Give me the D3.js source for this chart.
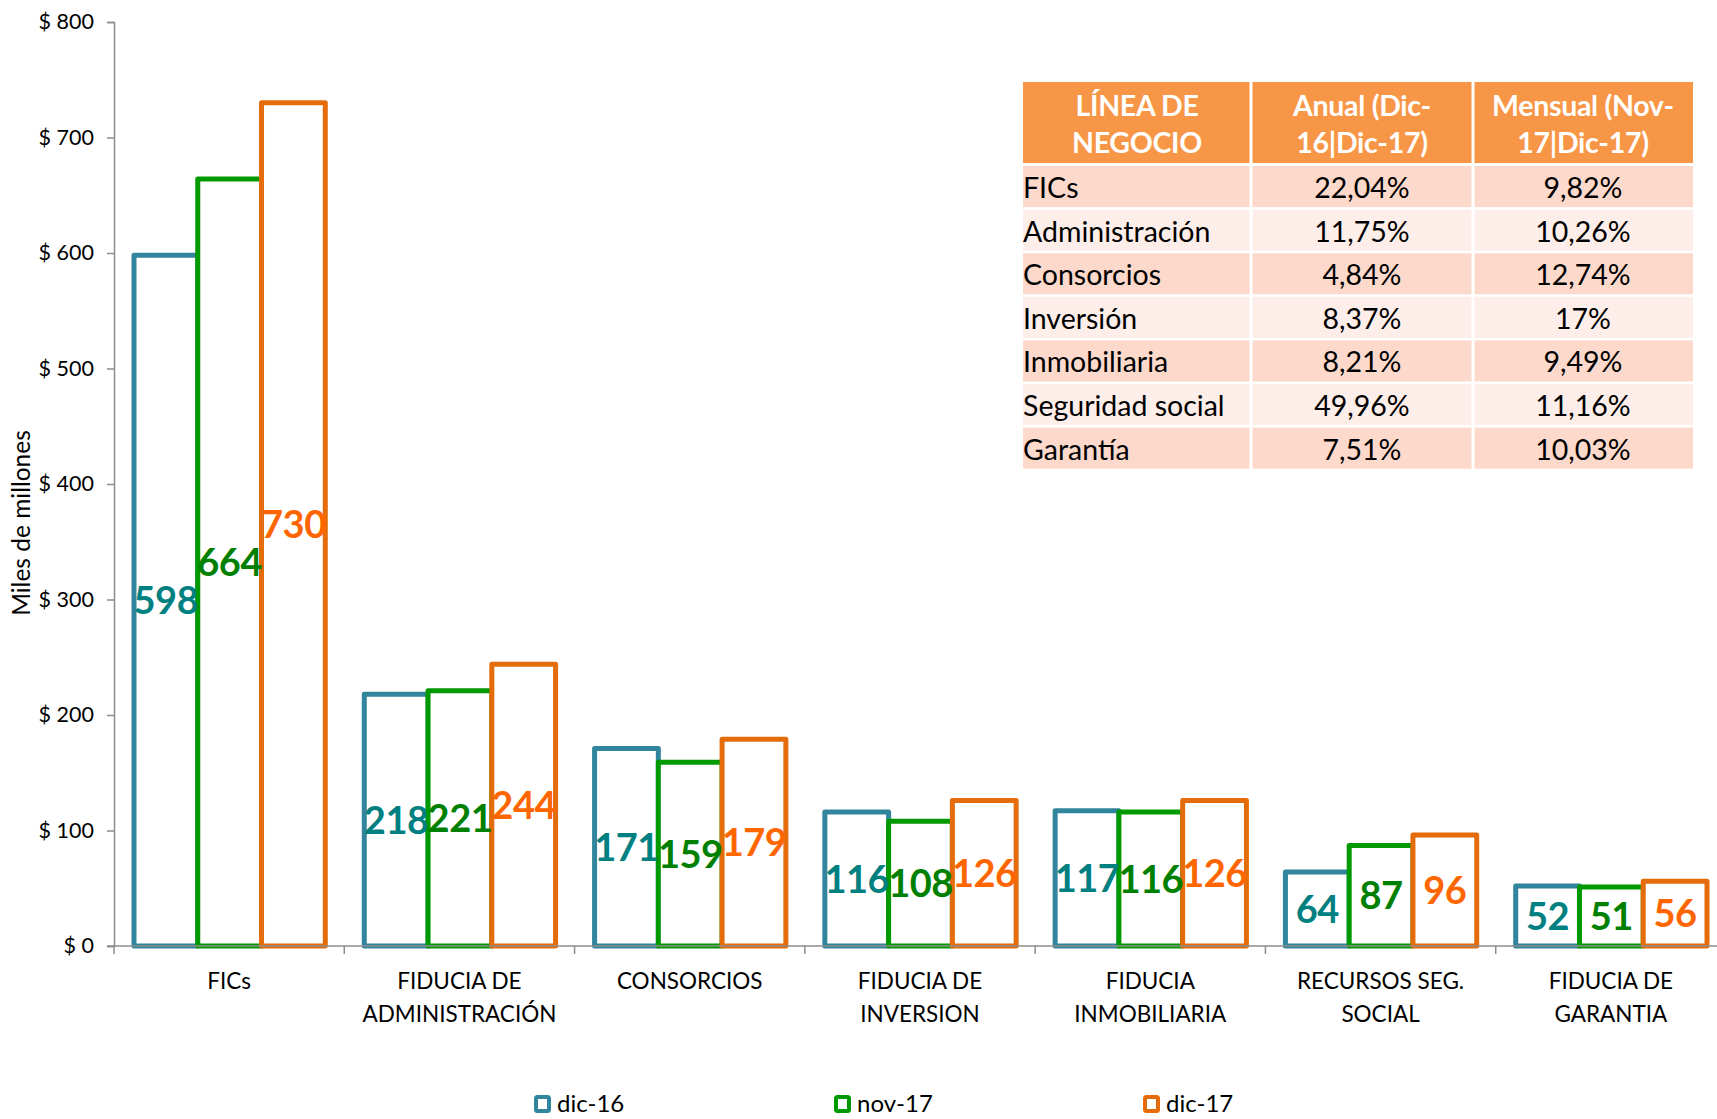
<!DOCTYPE html>
<html>
  <head>
    <meta charset="utf-8">
    <title>Líneas de negocio</title>
    <script src="https://d3js.org/d3.v7.min.js"></script>
    <style>
      body { margin: 0; background: #fff; }
      text { font-family: Lato, "Open Sans", sans-serif; }
    </style>
  </head>
  <body>
    <div id="graph"></div>
  </body>

  <script>
    // Chart data
    const categories = ["FICs", "FIDUCIA DE ADMINISTRACIÓN", "CONSORCIOS", "FIDUCIA DE INVERSION",
      "FIDUCIA INMOBILIARIA", "RECURSOS SEG. SOCIAL", "FIDUCIA DE GARANTIA"];
    const category_lines = [["FICs"], ["FIDUCIA DE", "ADMINISTRACIÓN"], ["CONSORCIOS"], ["FIDUCIA DE", "INVERSION"],
      ["FIDUCIA", "INMOBILIARIA"], ["RECURSOS SEG.", "SOCIAL"], ["FIDUCIA DE", "GARANTIA"]];
    const series = ["dic-16", "nov-17", "dic-17"];
    const dic16 = [598, 218, 171, 116, 117, 64, 52];
    const nov17 = [664, 221, 159, 108, 116, 87, 51];
    const dic17 = [730, 244, 179, 126, 126, 96, 56];
    const y_ticks = [0, 100, 200, 300, 400, 500, 600, 700, 800];

    // Table data
    const table_header = [["LÍNEA DE", "NEGOCIO"], ["Anual (Dic-", "16|Dic-17)"], ["Mensual (Nov-", "17|Dic-17)"]];
    const table_lines = ["FICs", "Administración", "Consorcios", "Inversión", "Inmobiliaria", "Seguridad social", "Garantía"];
    const table_anual = ["22,04%", "11,75%", "4,84%", "8,37%", "8,21%", "49,96%", "7,51%"];
    const table_mensual = ["9,82%", "10,26%", "12,74%", "17%", "9,49%", "11,16%", "10,03%"];

    const stroke_colors = {"dic-16": "#31859c", "nov-17": "#009900", "dic-17": "#e46c0a"};
    const label_colors = {"dic-16": "#008080", "nov-17": "#008000", "dic-17": "#ff6600"};

    const width = 1717;
    const height = 1119;
    const margin = ({top: 22, left: 114, bottom: 946});

    let svg = d3.select("#graph").append("svg")
      .attr("width", width)
      .attr("height", height);

    const values = {"dic-16": dic16, "nov-17": nov17, "dic-17": dic17};
    const data = categories.map((c, i) => ({
      category: c,
      items: series.map(s => ({series: s, value: values[s][i]}))
    }));

    // Scales (the last category runs a bit past the right edge, like the original)
    let x = d3.scaleBand()
      .domain(categories)
      .range([margin.left, 1726]);
    let x1 = d3.scaleBand()
      .domain(series)
      .range([20, x.bandwidth() - 19]);
    let y = d3.scaleLinear()
      .domain([0, 800])
      .range([margin.bottom, margin.top]);

    // Y axis
    let y_axis = d3.axisLeft(y)
      .tickValues(y_ticks)
      .tickSize(7)
      .tickPadding(13)
      .tickFormat(d => "$ " + d);
    let gy = svg.append("g")
      .attr("transform", `translate(${margin.left}, 0)`)
      .call(y_axis);
    gy.select(".domain").attr("stroke", "#8c8c8c").attr("stroke-width", 1.5);
    gy.selectAll(".tick line").attr("stroke", "#8c8c8c").attr("stroke-width", 1.5);
    gy.selectAll(".tick text")
      .attr("fill", "#000")
      .style("font-size", "21.5px")
      .style("font-family", "Lato, sans-serif");

    svg.append("text")
      .attr("transform", `translate(30, 523) rotate(-90)`)
      .attr("text-anchor", "middle")
      .style("font-size", "24.5px")
      .text("Miles de millones");

    // Bars
    let groups = svg.append("g")
      .selectAll("g")
      .data(data)
      .enter()
      .append("g")
      .attr("transform", d => `translate(${x(d.category)}, 0)`);

    groups.selectAll("rect")
      .data(d => d.items)
      .enter()
      .append("rect")
      .attr("x", d => x1(d.series))
      .attr("y", d => y(d.value))
      .attr("width", x1.bandwidth())
      .attr("height", d => y(0) - y(d.value))
      .attr("fill", "#fff")
      .attr("stroke", d => stroke_colors[d.series])
      .attr("stroke-width", 5)
      .attr("stroke-linejoin", "round");

    // X axis line and ticks
    svg.append("line")
      .attr("x1", margin.left - 7).attr("x2", width)
      .attr("y1", y(0)).attr("y2", y(0))
      .attr("stroke", "#8c8c8c").attr("stroke-width", 1.5);
    svg.append("g")
      .selectAll("line")
      .data(categories)
      .enter()
      .append("line")
      .attr("x1", d => x(d)).attr("x2", d => x(d))
      .attr("y1", y(0)).attr("y2", y(0) + 8)
      .attr("stroke", "#8c8c8c").attr("stroke-width", 1.5);

    // Value labels, centered in each bar
    groups.selectAll(".val")
      .data(d => d.items)
      .enter()
      .append("text")
      .attr("class", "val")
      .attr("x", d => x1(d.series) + x1.bandwidth() / 2)
      .attr("y", d => (y(d.value) + y(0)) / 2)
      .attr("dy", "0.36em")
      .attr("text-anchor", "middle")
      .attr("fill", d => label_colors[d.series])
      .style("font-size", "38px")
      .style("font-weight", "bold")
      .style("letter-spacing", "-0.5px")
      .text(d => d.value);

    // Category labels
    let cat_labels = svg.append("g")
      .selectAll("text")
      .data(categories)
      .enter()
      .append("text")
      .attr("x", d => x(d) + x.bandwidth() / 2)
      .attr("y", 989)
      .attr("text-anchor", "middle")
      .style("font-size", "22.5px");
    cat_labels.selectAll("tspan")
      .data((d, i) => category_lines[i])
      .enter()
      .append("tspan")
      .attr("x", function() { return this.parentNode.getAttribute("x"); })
      .attr("dy", (d, i) => i === 0 ? 0 : 33)
      .text(d => d);

    // Legend
    const legend_x = [536, 836, 1145];
    let legend = svg.append("g")
      .selectAll("g")
      .data(series)
      .enter()
      .append("g")
      .attr("transform", (d, i) => `translate(${legend_x[i]}, 1104)`);
    legend.append("rect")
      .attr("x", 0).attr("y", -7)
      .attr("width", 13).attr("height", 14)
      .attr("rx", 1.5)
      .attr("fill", "#fff")
      .attr("stroke", d => stroke_colors[d])
      .attr("stroke-width", 4);
    legend.append("text")
      .attr("x", 21)
      .attr("y", 0)
      .attr("dy", "0.34em")
      .style("font-size", "24px")
      .text(d => d);

    // Table of growth rates
    const col_x = [1023, 1251, 1473, 1693];
    const header_top = 82, header_bottom = 163;
    const row_top = 166, row_h = 43.6;
    let table = svg.append("g");

    table.selectAll(".hcell")
      .data(table_header)
      .enter()
      .append("rect")
      .attr("x", (d, i) => col_x[i] + (i ? 1.5 : 0))
      .attr("y", header_top)
      .attr("width", (d, i) => col_x[i + 1] - col_x[i] - (i ? 1.5 : 0) - (i < 2 ? 1.5 : 0))
      .attr("height", header_bottom - header_top)
      .attr("fill", "#f79646");
    let htext = table.selectAll(".htext")
      .data(table_header)
      .enter()
      .append("text")
      .attr("x", (d, i) => (col_x[i] + col_x[i + 1]) / 2)
      .attr("y", 116)
      .attr("text-anchor", "middle")
      .attr("fill", "#fff")
      .style("font-size", "28.5px")
      .style("font-weight", "bold")
      .style("letter-spacing", "-0.3px");
    htext.selectAll("tspan")
      .data(d => d)
      .enter()
      .append("tspan")
      .attr("x", function() { return this.parentNode.getAttribute("x"); })
      .attr("dy", (d, i) => i === 0 ? 0 : 37)
      .text(d => d);

    const table_rows = table_lines.map((l, i) => [l, table_anual[i], table_mensual[i]]);
    let rows = table.selectAll(".row")
      .data(table_rows)
      .enter()
      .append("g")
      .attr("transform", (d, i) => `translate(0, ${row_top + i * row_h})`);
    rows.selectAll("rect")
      .data((d, i) => d.map(v => ({v: v, odd: i % 2 === 0})))
      .enter()
      .append("rect")
      .attr("x", (d, i) => col_x[i] + (i ? 1.5 : 0))
      .attr("y", 0)
      .attr("width", (d, i) => col_x[i + 1] - col_x[i] - (i ? 1.5 : 0) - (i < 2 ? 1.5 : 0))
      .attr("height", row_h - 2.5)
      .attr("fill", d => d.odd ? "#fcd9cb" : "#fdeee9");
    rows.selectAll("text")
      .data(d => d)
      .enter()
      .append("text")
      .attr("x", (d, i) => i === 0 ? col_x[0] : (col_x[i] + col_x[i + 1]) / 2)
      .attr("y", row_h / 2)
      .attr("dy", "0.36em")
      .attr("text-anchor", (d, i) => i === 0 ? "start" : "middle")
      .style("font-size", "28.5px")
      .text(d => d);
  </script>
</html>
